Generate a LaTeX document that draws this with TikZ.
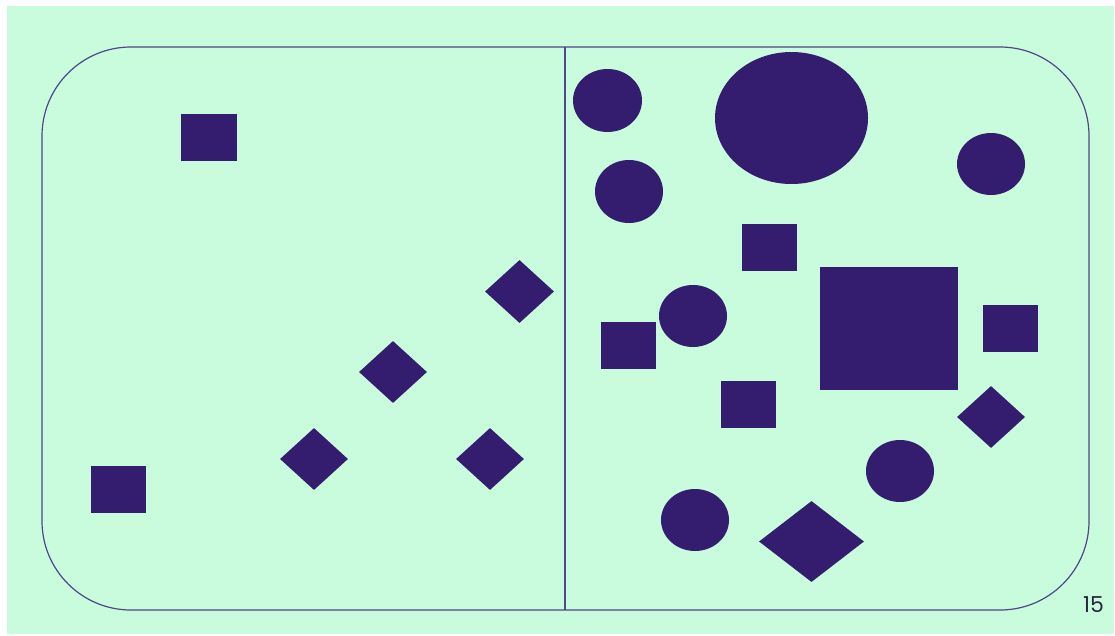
\documentclass[tikz,border=0pt]{standalone}
\usepackage{fontspec}
\setmainfont{Poppins}
\usetikzlibrary{shapes.geometric}
\definecolor{bggreen}{RGB}{200,252,220}
\definecolor{ink}{RGB}{52,28,110}
\definecolor{lineink}{RGB}{80,70,140}
\definecolor{numink}{RGB}{40,40,60}
\tikzset{
  sq/.style={rectangle,fill=ink,inner sep=0pt,minimum width=55pt,minimum height=47pt},
  dia/.style={diamond,fill=ink,inner sep=0pt,minimum width=68pt,minimum height=62pt},
  blob/.style={ellipse,fill=ink,inner sep=0pt,minimum width=68pt,minimum height=62pt},
  frameline/.style={draw=lineink,line width=1.2pt}
}
\begin{document}
\begin{tikzpicture}[x=1pt,y=-1pt]
\useasboundingbox (0,0) rectangle (1115,635);
\fill[bggreen] (7,6) rectangle (1114,634);
% frame
\draw[frameline,rounded corners=89pt] (42,47) rectangle (1089,610);
\coordinate (divtop) at (565,47);
\coordinate (divbot) at (565,610);
\draw[frameline] (divtop) -- (divbot);
% left half
\node[sq,minimum width=56pt] (sqA) at (209,137.5) {};
\node[sq] (sqB) at (118.5,489.5) {};
\node[dia,minimum width=69pt,minimum height=63pt] (dA) at (519.5,291.5) {};
\node[dia] (dB) at (393,372) {};
\node[dia] (dC) at (314,459) {};
\node[dia] (dD) at (490,459) {};
% right half
\node[blob,minimum width=69pt,minimum height=63pt] (cA) at (607.5,100.5) {};
\node[blob,minimum width=153pt,minimum height=132pt] (bigE) at (791.5,118) {};
\node[blob] (cB) at (991,164) {};
\node[blob,minimum height=63pt] (cC) at (629,191.5) {};
\node[sq] (sqC) at (769.5,247.5) {};
\node[sq,minimum width=138pt,minimum height=123pt] (bigS) at (889,328.5) {};
\node[blob] (cD) at (693,316) {};
\node[sq] (sqD) at (628.5,345.5) {};
\node[sq] (sqE) at (1010.5,328.5) {};
\node[sq] (sqF) at (748.5,404.5) {};
\node[dia] (dE) at (991,417) {};
\node[blob] (cE) at (900,471) {};
\node[blob] (cF) at (695,520) {};
\node[dia,minimum width=105pt,minimum height=81pt] (dF) at (811.5,541.5) {};
% page number
\node[text=numink,font=\fontsize{22}{26}\selectfont,inner sep=0pt] (pnum) at (1093.5,605) {15};
\end{tikzpicture}
\end{document}
